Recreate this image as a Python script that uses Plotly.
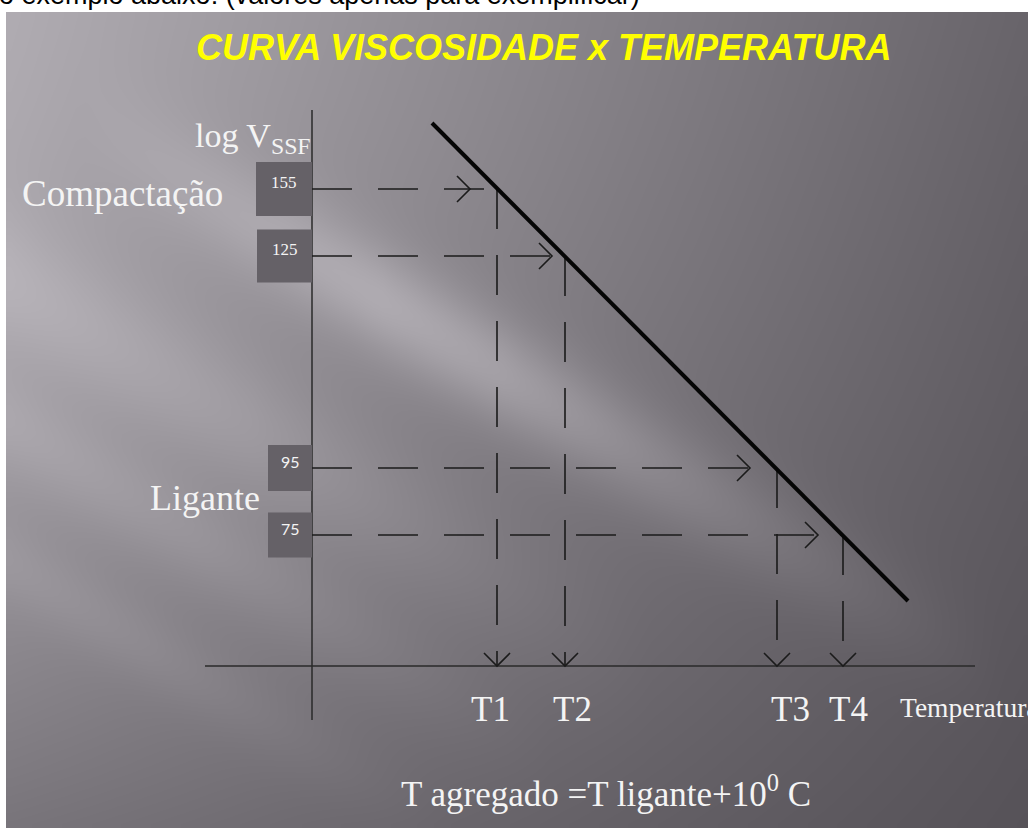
import numpy as np
import plotly.graph_objects as go

# ---------------- data (schematic units: x = temperature, y = log viscosity) ----------------
level_labels = ["155", "125", "95", "75"]          # viscosity values written in the boxes
level_logv = [477, 410, 198, 131]                   # vertical position of each level
temp_labels = ["T1", "T2", "T3", "T4"]
temp_values = [185, 253, 465, 531]                  # temperatures where levels meet the curve
curve_temp = [120, 596]                             # viscosity-temperature straight line
curve_logv = [543, 65]
group_labels = ["Compactação", "Ligante"]
x_axis_span = [-107, 663]
y_axis_span = [-54, 556]

# ---------------- page geometry / styles ----------------
W, H = 1028, 828
X0, Y0 = 312, 666            # pixel of data origin
SLIDE_L, SLIDE_T = 6, 12
INK = "#1b1b1b"
LW = 1.6
DASH = "40px,26px"
ARROW = 13
arrow_gap = [27, 13, 27, 25]
box_w = [56, 55, 44, 44]
box_h = [54, 53, 46, 45]
label_dx = [-7, 7, 13, 5]
SERIF = "Liberation Serif"
SANS = "Liberation Sans"
TXT = "#f4f4f4"


def dx(px):
    return px - X0


def dy(py):
    return Y0 - py


def pfx(px):
    return px / W


def pfy(py):
    return 1 - py / H


fig = go.Figure()

# ---------------- background (decorative gradient of the slide) ----------------
nx, ny = 110, 90
xe = np.linspace(SLIDE_L, W, nx + 1)
ye = np.linspace(H, SLIDE_T, ny + 1)          # from bottom to top of page
xc = (xe[:-1] + xe[1:]) / 2
yc = (ye[:-1] + ye[1:]) / 2
PX, PY = np.meshgrid(xc, yc)
u = PX / W
v = (PY - SLIDE_T) / (H - SLIDE_T)
left = 176 - 14 * v - 42 * v ** 2
right = 104 - 18 * v
L = left * (1 - u) + right * u
s = PY - 0.6 * PX
L += 34 * np.exp(-((s - 72) / 55) ** 2) * np.clip((1000 - PX) / 500, 0, 1) * np.clip((PX - 80) / 300, 0, 1)
L += 16 * np.exp(-((s - 280) / 70) ** 2) * np.clip((650 - PX) / 400, 0, 1)
L += 13 * np.exp(-((s - 420) / 50) ** 2) * np.clip((550 - PX) / 350, 0, 1)
L += 9 * np.exp(-((s - 560) / 40) ** 2) * np.clip((450 - PX) / 300, 0, 1)

fig.add_trace(go.Heatmap(
    x=dx(xe), y=dy(ye), z=L, zmin=70, zmax=200, zsmooth="best",
    colorscale=[[0, "rgb(70,66,72)"], [1, "rgb(200,196,202)"]],
    showscale=False, hoverinfo="skip"))

# ---------------- axes of the schematic ----------------
fig.add_trace(go.Scatter(x=[0, 0], y=y_axis_span, mode="lines",
                         line=dict(color="#2a2a2a", width=1.5), hoverinfo="skip"))
fig.add_trace(go.Scatter(x=x_axis_span, y=[0, 0], mode="lines",
                         line=dict(color="#2a2a2a", width=1.5), hoverinfo="skip"))

# ---------------- dashed guides and arrows ----------------
for i, (lv, t) in enumerate(zip(level_logv, temp_values)):
    fig.add_trace(go.Scatter(x=[0, t], y=[lv, lv], mode="lines",
                             line=dict(color=INK, width=LW, dash=DASH), hoverinfo="skip"))
    fig.add_trace(go.Scatter(x=[t, t], y=[lv, 0], mode="lines",
                             line=dict(color=INK, width=LW, dash=DASH), hoverinfo="skip"))
    tip = t - arrow_gap[i]
    fig.add_trace(go.Scatter(x=[tip - ARROW, tip, tip - ARROW], y=[lv + ARROW, lv, lv - ARROW],
                             mode="lines", line=dict(color=INK, width=LW), hoverinfo="skip"))
    fig.add_trace(go.Scatter(x=[t - ARROW, t, t + ARROW], y=[ARROW, 0, ARROW],
                             mode="lines", line=dict(color=INK, width=LW), hoverinfo="skip"))

# ---------------- viscosity curve ----------------
fig.add_trace(go.Scatter(x=curve_temp, y=curve_logv, mode="lines",
                         line=dict(color="#050505", width=4), hoverinfo="skip"))

# ---------------- value boxes ----------------
shapes = []
annotations = []
for i, (lab, lv) in enumerate(zip(level_labels, level_logv)):
    shapes.append(dict(type="rect", xref="x", yref="y", layer="above",
                       x0=-box_w[i], x1=0, y0=lv - box_h[i] / 2, y1=lv + box_h[i] / 2,
                       fillcolor="#656167", line=dict(width=0)))
    serif_box = i < 2
    annotations.append(dict(
        x=-box_w[i] / 2, y=lv + 7, xref="x", yref="y", text=lab, showarrow=False,
        xanchor="center", yanchor="middle",
        font=dict(family=SERIF if serif_box else "Lato", size=17 if serif_box else 16, color=TXT)))

# ---------------- labels ----------------
for i, (lab, t) in enumerate(zip(temp_labels, temp_values)):
    annotations.append(dict(x=t + label_dx[i], y=dy(709), xref="x", yref="y", text=lab,
                            showarrow=False, xanchor="center", yanchor="middle",
                            font=dict(family=SERIF, size=35, color=TXT)))

annotations += [
    dict(x=pfx(898), y=pfy(707), xref="paper", yref="paper", text="Temperatura",
         showarrow=False, xanchor="left", yanchor="middle",
         font=dict(family=SERIF, size=27.5, color=TXT)),
    dict(x=pfx(193), y=pfy(138), xref="paper", yref="paper", text="log V<sub>SSF</sub>",
         showarrow=False, xanchor="left", yanchor="middle",
         font=dict(family=SERIF, size=34, color=TXT)),
    dict(x=pfx(225), y=pfy(193), xref="paper", yref="paper", text=group_labels[0],
         showarrow=False, xanchor="right", yanchor="middle",
         font=dict(family=SERIF, size=37, color=TXT)),
    dict(x=pfx(262), y=pfy(498), xref="paper", yref="paper", text=group_labels[1],
         showarrow=False, xanchor="right", yanchor="middle",
         font=dict(family=SERIF, size=36, color=TXT)),
    dict(x=pfx(606), y=pfy(791), xref="paper", yref="paper",
         text="T agregado =T ligante+10<sup>0</sup> C",
         showarrow=False, xanchor="center", yanchor="middle",
         font=dict(family=SERIF, size=35, color=TXT)),
    dict(x=pfx(543), y=pfy(47), xref="paper", yref="paper",
         text="<b><i>CURVA VISCOSIDADE x TEMPERATURA</i></b>",
         showarrow=False, xanchor="center", yanchor="middle",
         font=dict(family=SANS, size=36, color="#ffff00")),
    dict(x=pfx(-3), y=pfy(-5.5), xref="paper", yref="paper",
         text="o exemplo abaixo: (valores apenas para exemplificar)",
         showarrow=False, xanchor="left", yanchor="middle",
         font=dict(family=SANS, size=27, color="#000000")),
]

fig.update_layout(
    width=W, height=H, margin=dict(l=0, r=0, t=0, b=0),
    paper_bgcolor="#ffffff", plot_bgcolor="#ffffff", showlegend=False,
    xaxis=dict(range=[-X0, W - X0], visible=False, fixedrange=True),
    yaxis=dict(range=[-(H - Y0), Y0], visible=False, fixedrange=True),
    shapes=shapes, annotations=annotations,
)

fig.write_html("out.html", config={"displayModeBar": False},
               post_script="document.body.style.margin='0';document.body.style.overflow='hidden';")
